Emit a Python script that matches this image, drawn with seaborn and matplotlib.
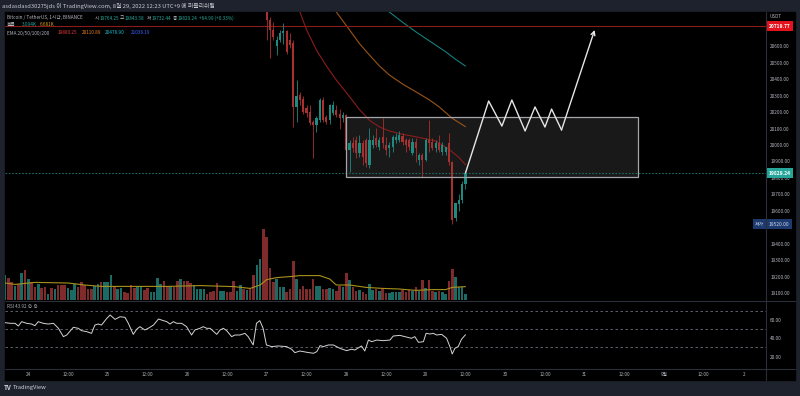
import numpy as np
import pandas as pd
import matplotlib
matplotlib.use('Agg')
import matplotlib.pyplot as plt
from matplotlib.patches import Rectangle
from matplotlib.lines import Line2D
import seaborn as sns

# 시간축 = 8월 24일 00:00 부터 지난 시간 (1시간봉)
candle_hours = list(range(72, 133))
opens = [20850, 20760, 20700, 20600, 20640, 20680, 20690, 20640, 20620, 20230,
         20305, 20280, 20225, 20200, 20140, 20121, 20150, 20273, 20170, 20150,
         20195, 20212, 20190, 20164, 20182, 19970, 20012, 20030, 19951, 20012,
         20030, 19880, 20000, 20042, 19990, 20048, 20000, 19982, 19990, 20030,
         20030, 20055, 20030, 20030, 19951, 20018, 19909, 19939, 19909, 20030,
         20018, 19982, 20012, 19957, 19957, 20012, 19897, 19555, 19640, 19666,
         19764.25]
highs = [20880, 20775, 20745, 20660, 20700, 20740, 20700, 20680, 20640, 20395,
         20320, 20300, 20240, 20240, 20150, 20175, 20285, 20290, 20180, 20250,
         20270, 20245, 20220, 20200, 20190, 20030, 20050, 20055, 20061, 20030,
         20040, 20103, 20060, 20103, 20050, 20164, 20048, 20020, 20060, 20070,
         20085, 20075, 20045, 20040, 20040, 20040, 19950, 19950, 20042, 20152,
         20040, 20030, 20061, 20020, 19990, 20073, 19900, 19600, 19700, 19780,
         19843.58]
lows = [20640, 20530, 20640, 20545, 20625, 20610, 20550, 20590, 20110, 20140,
        20240, 20190, 20170, 20120, 19921, 20080, 20140, 20140, 20125, 20130,
        20180, 20170, 20100, 20140, 19820, 19836, 19960, 19920, 19930, 19880,
        19866, 19860, 19980, 19990, 19970, 19982, 19940, 19927, 19960, 20010,
        20020, 20000, 19957, 19970, 19939, 19897, 19880, 19806, 19900, 19957,
        19970, 19960, 19960, 19940, 19940, 19880, 19520, 19540, 19600, 19650,
        19732.44]
closes = [20760, 20700, 20655, 20640, 20680, 20690, 20565, 20607, 20230, 20300,
          20275, 20200, 20195, 20135, 20121, 20164, 20273, 20150, 20139, 20243,
          20243, 20182, 20164, 20182, 19970, 20012, 19982, 19951, 20012, 19930,
          19890, 20030, 20030, 20000, 20030, 20012, 19970, 20000, 20048, 20050,
          20061, 20018, 20000, 19990, 20018, 19982, 19939, 19909, 20030, 20012,
          19982, 20012, 19970, 20000, 19988, 19897, 19545, 19650, 19666, 19764,
          19829.24]

# 거래량 (K), 1시간봉, -7h 부터 132h 까지
vol_hours = list(range(-7, 133))
volume = [12.5, 11, 9, 7, 8, 13.3, 15, 10.5, 9, 6.7,
          8, 6, 6.3, 3, 6, 5.5, 7.7, 7.7, 7.7, 6,
          5, 8, 6.7, 9, 7.5, 5.5, 5.5, 7, 8, 9,
          9, 9, 12.7, 7, 5.5, 6, 4, 3.5, 7.7, 6,
          7, 7, 5, 6, 4, 4, 11, 8, 9.3, 6.7,
          7, 6.3, 9.7, 10.5, 9.3, 9.7, 8.5, 7.5, 5.5, 5.5,
          5.5, 3, 4, 4.7, 8.5, 4.7, 4.7, 4.2, 4.2, 9.3,
          4.7, 7.5, 5.5, 5.2, 6, 12.7, 17.5, 20.5, 35.5, 31.7,
          16, 9.2, 10.5, 6.3, 6.3, 4, 5.5, 19.3, 10.5, 5.5,
          7.2, 5.5, 5.5, 10.5, 6.8, 7.2, 5.5, 5.5, 5.8, 5.5,
          4.7, 7.2, 6.3, 13.3, 10, 6.3, 4.7, 5.2, 4.2, 3,
          8, 5, 5.5, 4.7, 5.5, 3.5, 3.5, 3.8, 3.8, 4.2,
          5, 4.2, 5, 4.7, 6.3, 4.7, 10, 5.8, 10, 4.7,
          3.8, 4.5, 4.2, 3, 9.7, 15.5, 11.3, 6.3, 6.3, 3.094]
vol_dir = ("u d d u d u d u d d  u d d u d u d d d u  u u d d d d d u u d  "
           "u u u d u u d d d d  u u d d u u u u d d  u d d u d d d u u u  "
           "u d d d d u u d d d  u u d u d d u u d d  d d u u u d d d u d  "
           "d d d d u u d d u u  d d u d u d d u d d  u u d u d d u u u u  "
           "d d d u d u d u d d  u d u u d d u u u u").split()

vma_hours = [-7, -4, 2, 12, 17, 22, 32, 42, 52, 62, 67, 70, 72, 75, 79, 82, 88,
             91, 93, 97, 102, 107, 112, 117, 122, 126, 128, 132]
vma = [8.5, 7.8, 8.8, 8.5, 7.5, 6.8, 6.8, 6.8, 7.2, 6.7, 5.8, 7.5, 10.2, 11.2,
       11.7, 12.2, 12.2, 10.5, 7.5, 7.5, 6.3, 5.8, 5.5, 4.8, 5.2, 5.2, 6.3, 6.681]

# EMA 20/50/100 (보이는 부분)
ema20_h = [80, 82, 84, 87, 90, 93, 97, 100, 103, 106, 109, 113, 117, 123, 127, 130, 132]
ema20 = [20900, 20807, 20700, 20576, 20480, 20394, 20293, 20215, 20150, 20110,
         20085, 20065, 20050, 20024, 19975, 19925, 19880.25]
ema50_h = [91, 93, 97, 100, 103, 106, 109, 113, 117, 121, 124, 128, 132]
ema50 = [20860, 20807, 20698, 20615, 20546, 20480, 20425, 20370, 20323, 20275,
         20232, 20162, 20110.89]
ema100_h = [106, 109, 113, 117, 121, 126, 129, 132]
ema100 = [20852, 20807, 20745, 20687, 20633, 20566, 20520, 20478.90]

# RSI
rsi_hours = [-7, -5.5, -4, -3, -2, -0.5, 1, 2, 3, 4.5,
             6, 7.6, 9.1, 10.6, 11.6, 13.6, 15.1, 16.1, 17.6, 19.1,
             20.1, 21.1, 22.1, 23.7, 24.7, 26.2, 27.7, 29.2, 30.2, 31.7,
             32.7, 33.7, 35.2, 36.2, 37.8, 39.3, 40.8, 41.8, 42.8, 43.8,
             44.8, 46.3, 47.8, 49.3, 50.3, 51.8, 52.8, 53.9, 54.9, 56.9,
             57.9, 58.9, 59.9, 61.4, 62.4, 63.9, 65.4, 66.4, 67.9, 68.9,
             69.9, 70.9, 71.9, 73.5, 75.5, 78, 79.5, 80.5, 82, 84.1,
             86.1, 87.1, 88.1, 89.1, 90.6, 92.1, 94.1, 96.1, 97.6, 98.6,
             100.6, 101.6, 102.7, 103.7, 105.2, 107.2, 109.2, 110.2, 112.2, 113.7,
             115.7, 116.7, 117.8, 119.3, 120.1, 121.3, 122.3, 123.3, 124.8, 126.3,
             127.3, 128, 128.8, 129.8, 130.8, 132]
rsi = [57.1, 56.4, 56.4, 53.4, 58.2, 56.4, 55.6, 53.8, 58.2, 56.4,
       55.6, 56.4, 50.9, 41.8, 43.6, 52.0, 50.9, 48.3, 47.3, 45.4,
       54.5, 55.6, 54.5, 61.8, 65.5, 60.7, 63.6, 62.9, 56.4, 44.3,
       49.8, 52.7, 49.1, 50.9, 54.5, 61.1, 59.3, 58.2, 55.6, 58.2,
       56.4, 56.4, 52.7, 43.6, 49.1, 50.9, 52.7, 50.9, 50.9, 44.3,
       49.1, 50.9, 48.3, 41.8, 43.6, 43.6, 45.4, 41.8, 32.7, 56.4,
       59.3, 50.9, 32.7, 30.9, 31.6, 30.9, 28.0, 24.3, 26.1, 24.7,
       23.6, 25.4, 32.0, 30.9, 32.7, 32.7, 29.0, 26.5, 28.0, 27.2,
       31.6, 26.1, 38.1, 36.3, 38.1, 37.4, 38.1, 42.5, 43.2, 41.8,
       40.0, 41.8, 35.6, 36.3, 45.4, 44.7, 45.4, 43.6, 44.3, 40.0,
       30.9, 22.8, 29.0, 30.9, 38.9, 43.92]

# 차트 위 그림 (박스, 지그재그 화살표)
box_h = [96, 184]
box_p = [19806, 20168]
path_h = [132, 139, 143, 146, 150, 153, 156, 158, 161, 171]
path_p = [19830, 20267, 20115, 20273, 20085, 20231, 20109, 20218, 20091, 20698]

price_ticks = list(range(19100, 20700, 100))
date_ticks = list(range(0, 217, 12))
date_labels = ['24', '12:00', '25', '12:00', '26', '12:00', '27', '12:00', '28', '12:00',
               '29', '12:00', '30', '12:00', '31', '12:00', '9월', '12:00', '2']

UP, DN = '#1f8a80', '#a8302f'
VUP, VDN = '#1b6b64', '#802b2b'
GRID = '#2a2e39'
TXT = '#b2b5be'

sns.set_theme(style='dark', rc={'axes.facecolor': 'none', 'figure.facecolor': '#1e222d',
                                'axes.edgecolor': 'none'})
plt.rcParams['font.family'] = ['Noto Sans CJK KR', 'DejaVu Sans']

W, H = 800, 396
fig = plt.figure(figsize=(8, 3.96), dpi=100)


def box(x0, y0, x1, y1):
    return [x0 / W, 1 - y1 / H, (x1 - x0) / W, (y1 - y0) / H]


def ft(x, y, s, **kw):
    kw.setdefault('va', 'center')
    fig.text(x / W, 1 - y / H, s, **kw)


fig.patches.append(Rectangle((5 / W, 1 - 380 / H), 790 / W, 368 / H,
                             transform=fig.transFigure, color='black', zorder=-5))

XL = (-7.035, 222.74)
axv = fig.add_axes(box(5, 12, 766, 300))
ax = fig.add_axes(box(5, 12, 766, 300))
axr = fig.add_axes(box(5, 301, 766, 368))
for a in (axv, ax, axr):
    a.set_facecolor('none')
    a.grid(False)
    for s in a.spines.values():
        s.set_visible(False)

# 거래량
vcol = [VUP if d == 'u' else VDN for d in vol_dir]
axv.bar(vol_hours, volume, width=0.78, color=vcol, linewidth=0)
sns.lineplot(x=vma_hours, y=vma, ax=axv, color='#a8921c', lw=0.8)
axv.set_xlim(*XL)
axv.set_ylim(0, 144)
axv.axis('off')

# 캔들
df = pd.DataFrame({'h': candle_hours, 'o': opens, 'hi': highs, 'lo': lows, 'c': closes})
df['col'] = np.where(df['c'] >= df['o'], UP, DN)
df['body'] = (df['c'] - df['o']).abs().clip(lower=4)
df['bot'] = df[['o', 'c']].min(axis=1)

ax.add_patch(Rectangle((box_h[0], box_p[0]), box_h[1] - box_h[0], box_p[1] - box_p[0],
                       facecolor=(1, 1, 1, 0.1), edgecolor='none', zorder=1))
ax.vlines(df['h'], df['lo'], df['hi'], colors=df['col'], lw=0.6, zorder=3)
ax.bar(df['h'], df['body'], bottom=df['bot'], width=0.65, color=df['col'], linewidth=0, zorder=3)
ax.add_patch(Rectangle((box_h[0], box_p[0]), box_h[1] - box_h[0], box_p[1] - box_p[0],
                       facecolor='none', edgecolor='#a4a6ab', lw=0.9, zorder=4))

sns.lineplot(x=ema20_h, y=ema20, ax=ax, color='#8c1d1d', lw=0.8, zorder=2)
sns.lineplot(x=ema50_h, y=ema50, ax=ax, color='#9a5418', lw=0.8, zorder=2)
sns.lineplot(x=ema100_h, y=ema100, ax=ax, color='#137f7c', lw=0.8, zorder=2)

ax.axhline(20719.77, color='#8a1b1b', lw=0.8, zorder=2)
ax.axhline(19829.24, color='#1c6a63', lw=0.8, ls=(0, (1.5, 1.5)), zorder=2)

ax.plot(path_h[:-1], path_p[:-1], color='#e6e6e6', lw=1.0, zorder=5)
ax.annotate('', xy=(path_h[-1], path_p[-1]), xytext=(path_h[-2], path_p[-2]),
            arrowprops=dict(arrowstyle='->', color='#e6e6e6', lw=1.0,
                            shrinkA=0, shrinkB=0, mutation_scale=7), zorder=5)

ax.set_xlim(*XL)
ax.set_ylim(19059.5, 20807)
ax.set_xlabel('')
ax.set_ylabel('')
ax.yaxis.tick_right()
ax.set_yticks(price_ticks)
ax.set_yticklabels([f'{v:.2f}' for v in price_ticks])
ax.tick_params(axis='y', length=0, pad=3.0, labelsize=3.4, labelcolor=TXT)
ax.tick_params(axis='x', bottom=False, labelbottom=False)

ytr = ax.get_yaxis_transform()
badge = dict(transform=ytr, va='center', size=3.5, clip_on=False, zorder=6)
ax.text(1.0034, 20719.77, '20719.77', ha='left', color='white', fontweight='bold',
        bbox=dict(boxstyle='square,pad=0.5', fc='#e3121c', ec='none'), **badge)
ax.text(1.0034, 19829.24, '19829.24', ha='left', color='white', fontweight='bold',
        bbox=dict(boxstyle='square,pad=0.5', fc='#26a69a', ec='none'), **badge)
ax.text(1.0034, 19520, '19520.00', ha='left', color='#d0d8f0',
        bbox=dict(boxstyle='square,pad=0.5', fc='#1d3a6e', ec='none'), **badge)
ax.text(0.9975, 19520, '저가', ha='right', color='#d0d8f0',
        bbox=dict(boxstyle='square,pad=0.5', fc='#1d3a6e', ec='none'), **badge)

# RSI
for lv in (70, 50, 30):
    axr.axhline(lv, color='#6a6d78', lw=0.6, ls=(0, (3, 3)))
sns.lineplot(x=rsi_hours, y=rsi, ax=axr, color='#d4d4d4', lw=0.7)
axr.set_xlim(*XL)
axr.set_ylim(7.5, 80.8)
axr.set_xlabel('')
axr.set_ylabel('')
axr.yaxis.tick_right()
axr.set_yticks([20, 40, 60])
axr.set_yticklabels(['20.00', '40.00', '60.00'])
axr.set_xticks(date_ticks)
axr.set_xticklabels(date_labels)
axr.tick_params(axis='y', length=0, pad=3.0, labelsize=3.4, labelcolor=TXT)
axr.tick_params(axis='x', length=0, pad=2.6, labelsize=3.3, labelcolor=TXT)

# 구분선
for x0, y0, x1, y1 in [(766, 12, 766, 380), (5, 300.5, 795, 300.5), (5, 368.5, 795, 368.5)]:
    fig.lines.append(Line2D([x0 / W, x1 / W], [1 - y0 / H, 1 - y1 / H], transform=fig.transFigure,
                            color=GRID, lw=0.8))

# 헤더 텍스트
ft(2, 6, 'asdasdasd30275jds 이 TradingView.com, 8월 29, 2022 12:23 UTC+9 에 퍼블리쉬됨',
   size=4.2, color='#c8cad0')
ft(7, 18, 'Bitcoin / TetherUS, 1시간, BINANCE', size=3.4, color=TXT)
for x, lab, val in [(95, '시', '19764.25'), (120, '고', '19843.58'),
                    (147, '저', '19732.44'), (173, '종', '19829.24')]:
    ft(x, 18, lab, size=3.4, color=TXT)
    ft(x + 5, 18, val, size=3.4, color='#26a69a')
ft(199, 18, '+64.99 (+0.33%)', size=3.4, color='#26a69a')
ft(7, 24.5, '볼륨', size=3.4, color=TXT)
ft(21.7, 24.5, '3.094K', size=3.4, color='#26a69a')
ft(40, 24.5, '6.681K', size=3.4, color='#d9a21b')
ft(7, 33, 'EMA 20/50/100/200', size=3.4, color=TXT)
ft(58, 33, '19880.25', size=3.4, color='#e2383a')
ft(82, 33, '20110.89', size=3.4, color='#e97d24')
ft(105, 33, '20478.90', size=3.4, color='#22b8c8')
ft(131, 33, '21038.19', size=3.4, color='#3a62ff')
ft(7, 307, 'RSI 43.92 ∅ ∅', size=3.3, color=TXT)
ft(770, 17, 'USDT', size=3.3, color=TXT)
ft(4, 388, 'TV', size=4.5, color='#d1d4dc', fontweight='bold')
ft(13, 388, 'TradingView', size=4.2, color='#d1d4dc')

fig.savefig('out.png', dpi=100, facecolor=fig.get_facecolor())
